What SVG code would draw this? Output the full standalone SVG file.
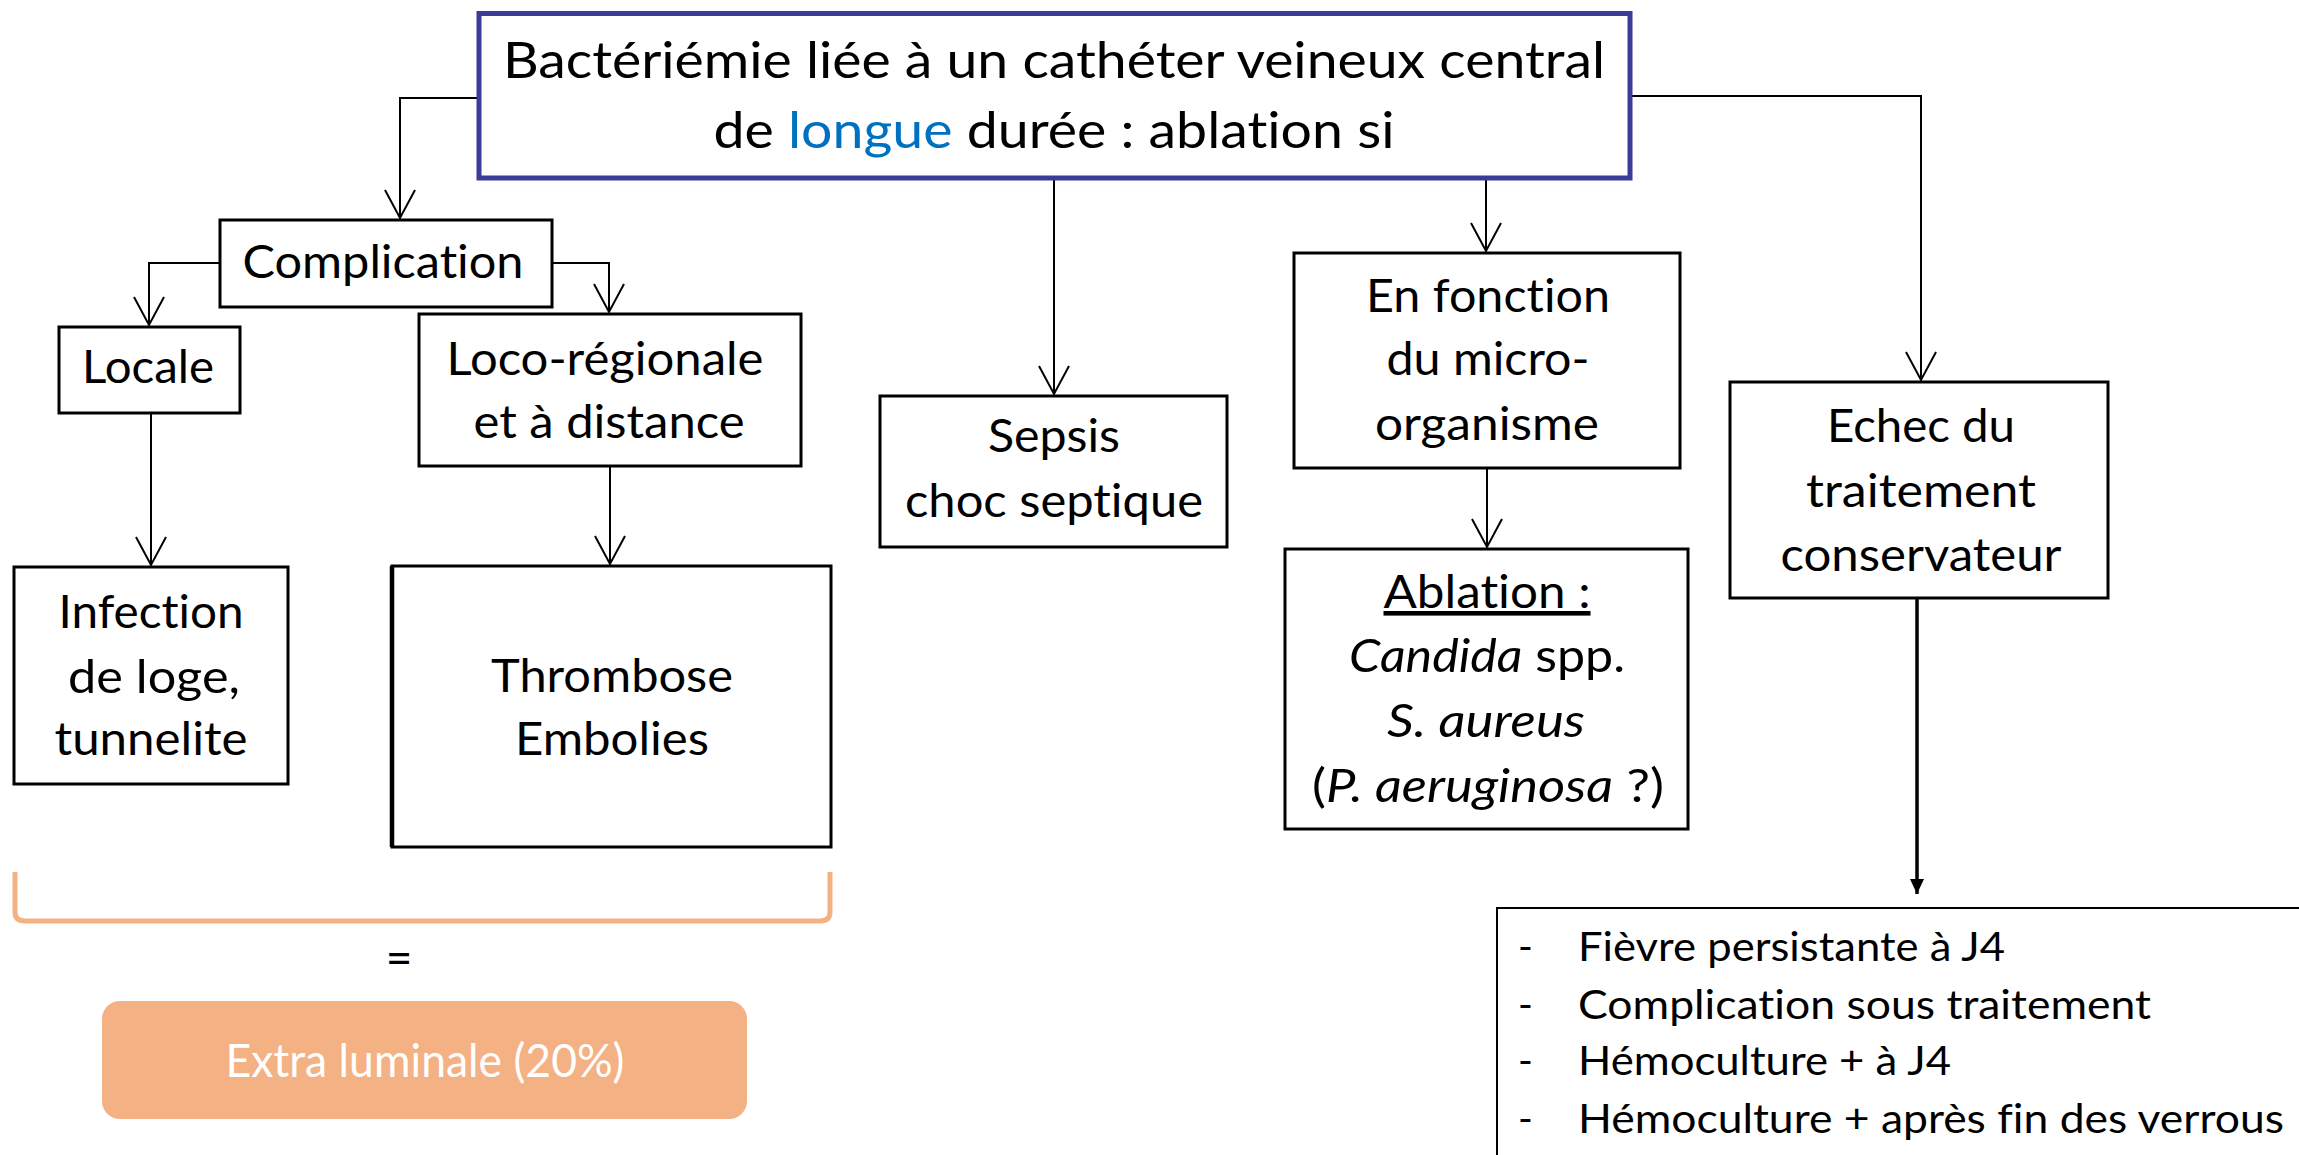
<svg xmlns="http://www.w3.org/2000/svg" width="2299" height="1155" viewBox="0 0 2299 1155">
<style>
text{font-variant-ligatures:none;font-feature-settings:"liga" 0,"clig" 0}
.box{fill:#fff;stroke:#000;stroke-width:3}
.t{font-family:Lato,"Liberation Sans",sans-serif;font-size:46px;fill:#000;text-anchor:middle}
.ti{font-family:Lato,"Liberation Sans",sans-serif;font-size:51px;fill:#000;text-anchor:middle}
.li{font-family:Lato,"Liberation Sans",sans-serif;font-size:40px;fill:#000}
.con{fill:none;stroke:#000;stroke-width:2}
.it{font-style:italic}
</style>
<defs>
<marker id="v" markerUnits="userSpaceOnUse" viewBox="-30 -16 32 32" markerWidth="32" markerHeight="32" refX="0" refY="0" orient="auto" overflow="visible">
<path d="M-28,-15 L0,0 L-28,15" fill="none" stroke="#000" stroke-width="2"/>
</marker>
<marker id="f" markerUnits="userSpaceOnUse" viewBox="-16 -8 17 16" markerWidth="17" markerHeight="16" refX="0" refY="0" orient="auto" overflow="visible">
<path d="M-15,-7 L0,0 L-15,7 Z" fill="#000"/>
</marker>
</defs>
<rect width="2299" height="1155" fill="#fff"/>

<g id="connectors">
<polyline class="con" points="479,98 400,98 400,218" marker-end="url(#v)"/>
<polyline class="con" points="220,263 149,263 149,325" marker-end="url(#v)"/>
<polyline class="con" points="552,263 609,263 609,312" marker-end="url(#v)"/>
<line class="con" x1="151" y1="413" x2="151" y2="565" marker-end="url(#v)"/>
<line class="con" x1="610" y1="466" x2="610" y2="564" marker-end="url(#v)"/>
<line class="con" x1="1054" y1="178" x2="1054" y2="394" marker-end="url(#v)"/>
<line class="con" x1="1486" y1="178" x2="1486" y2="251" marker-end="url(#v)"/>
<line class="con" x1="1487" y1="468" x2="1487" y2="547" marker-end="url(#v)"/>
<polyline class="con" points="1630,96 1921,96 1921,380" marker-end="url(#v)"/>
<line x1="1917" y1="598" x2="1917" y2="894" stroke="#000" stroke-width="3.5" marker-end="url(#f)"/>
</g>

<g id="top">
<rect x="479" y="13.5" width="1151" height="164.5" fill="#fff" stroke="#3B3B98" stroke-width="5"/>
<text class="ti" x="1054" y="78" textLength="1102" lengthAdjust="spacingAndGlyphs">Bactériémie liée à un cathéter veineux central</text>
<text class="ti" x="1054" y="148" textLength="681" lengthAdjust="spacingAndGlyphs">de <tspan fill="#0070C0">longue</tspan> durée : ablation si</text>
</g>

<g id="complication">
<rect class="box" x="220" y="220" width="332" height="87"/>
<text class="t" x="383" y="278" textLength="281" lengthAdjust="spacingAndGlyphs">Complication</text>
</g>

<g id="locale">
<rect class="box" x="59" y="327" width="181" height="86"/>
<text class="t" x="148" y="383" textLength="132" lengthAdjust="spacingAndGlyphs">Locale</text>
</g>

<g id="loco">
<rect class="box" x="419" y="314" width="382" height="152"/>
<text class="t" x="605" y="375" textLength="317" lengthAdjust="spacingAndGlyphs">Loco-régionale</text>
<text class="t" x="609" y="438" textLength="271" lengthAdjust="spacingAndGlyphs">et à distance</text>
</g>

<g id="infection">
<rect class="box" x="14" y="567" width="274" height="217"/>
<text class="t" x="151" y="628" textLength="185" lengthAdjust="spacingAndGlyphs">Infection</text>
<text class="t" x="154" y="693" textLength="172" lengthAdjust="spacingAndGlyphs">de loge,</text>
<text class="t" x="151" y="755" textLength="193" lengthAdjust="spacingAndGlyphs">tunnelite</text>
</g>

<g id="thrombose">
<rect class="box" x="392" y="566" width="439" height="281"/>
<line x1="392" y1="566" x2="392" y2="847" stroke="#000" stroke-width="4.5"/>
<text class="t" x="612" y="692" textLength="242" lengthAdjust="spacingAndGlyphs">Thrombose</text>
<text class="t" x="612" y="755" textLength="194" lengthAdjust="spacingAndGlyphs">Embolies</text>
</g>

<g id="sepsis">
<rect class="box" x="880" y="396" width="347" height="151"/>
<text class="t" x="1054" y="452" textLength="132" lengthAdjust="spacingAndGlyphs">Sepsis</text>
<text class="t" x="1054" y="517" textLength="298" lengthAdjust="spacingAndGlyphs">choc septique</text>
</g>

<g id="fonction">
<rect class="box" x="1294" y="253" width="386" height="215"/>
<text class="t" x="1488" y="312" textLength="244" lengthAdjust="spacingAndGlyphs">En fonction</text>
<text class="t" x="1488" y="375" textLength="203" lengthAdjust="spacingAndGlyphs">du micro-</text>
<text class="t" x="1487" y="440" textLength="224" lengthAdjust="spacingAndGlyphs">organisme</text>
</g>

<g id="ablation">
<rect class="box" x="1285" y="549" width="403" height="280"/>
<text class="t" x="1487" y="608" textLength="207" lengthAdjust="spacingAndGlyphs" text-decoration="underline">Ablation :</text>
<text class="t" x="1487" y="672" textLength="276" lengthAdjust="spacingAndGlyphs"><tspan class="it">Candida</tspan> spp.</text>
<text class="t it" x="1486" y="737" textLength="198" lengthAdjust="spacingAndGlyphs">S. aureus</text>
<text class="t" x="1488" y="802" textLength="352" lengthAdjust="spacingAndGlyphs">(<tspan class="it">P. aeruginosa</tspan> ?)</text>
</g>

<g id="echec">
<rect class="box" x="1730" y="382" width="378" height="216"/>
<text class="t" x="1921" y="442" textLength="188" lengthAdjust="spacingAndGlyphs">Echec du</text>
<text class="t" x="1921" y="507" textLength="230" lengthAdjust="spacingAndGlyphs">traitement</text>
<text class="t" x="1921" y="571" textLength="281" lengthAdjust="spacingAndGlyphs">conservateur</text>
</g>

<g id="liste">
<rect x="1497" y="908" width="820" height="270" fill="#fff" stroke="#000" stroke-width="2"/>
<text class="li" x="1518" y="961">-</text>
<text class="li" x="1578" y="961" textLength="427" lengthAdjust="spacingAndGlyphs">Fièvre persistante à J4</text>
<text class="li" x="1518" y="1019">-</text>
<text class="li" x="1578" y="1019" textLength="573" lengthAdjust="spacingAndGlyphs">Complication sous traitement</text>
<text class="li" x="1518" y="1075">-</text>
<text class="li" x="1578" y="1075" textLength="373" lengthAdjust="spacingAndGlyphs">Hémoculture + à J4</text>
<text class="li" x="1518" y="1133">-</text>
<text class="li" x="1578" y="1133" textLength="706" lengthAdjust="spacingAndGlyphs">Hémoculture + après fin des verrous</text>
</g>

<g id="extra">
<path d="M15,872 L15,912 Q15,921 25,921 L820,921 Q830,921 830,912 L830,872" fill="none" stroke="#F4B183" stroke-width="5"/>
<text class="t" x="399" y="974" font-size="34">=</text>
<rect x="102" y="1001" width="645" height="118" rx="18" fill="#F4B183"/>
<text class="t" x="425" y="1077" font-size="42" style="fill:#fff" textLength="399" lengthAdjust="spacingAndGlyphs">Extra luminale (20%)</text>
</g>
</svg>
